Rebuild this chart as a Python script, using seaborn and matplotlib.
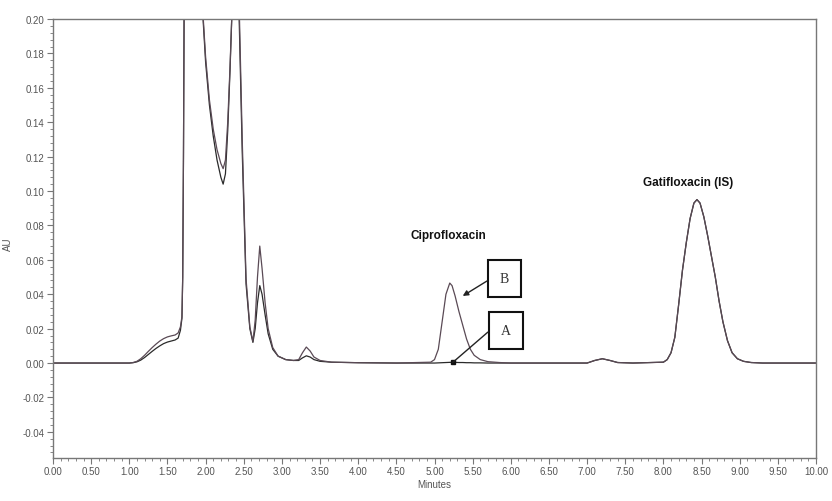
import numpy as np
import pandas as pd
import matplotlib
matplotlib.use("Agg")
import matplotlib.pyplot as plt
import seaborn as sns
from matplotlib.ticker import MultipleLocator, FormatStrFormatter

# ---- data (time in minutes, absorbance in AU) ----
time_min = [0.00, 0.50, 1.00, 1.05, 1.10, 1.15, 1.20, 1.25, 1.30, 1.35, 1.40, 1.45,
            1.50, 1.55, 1.60, 1.64, 1.67, 1.69, 1.70, 1.71, 1.72, 1.75, 1.85, 1.92,
            1.96, 2.00, 2.05, 2.10, 2.15, 2.20, 2.23, 2.26, 2.29, 2.32, 2.35, 2.38,
            2.41, 2.44, 2.48, 2.53, 2.58, 2.62, 2.65, 2.68, 2.71, 2.74, 2.78, 2.82,
            2.88, 2.95, 3.05, 3.15, 3.22, 3.27, 3.32, 3.37, 3.42, 3.50, 3.65, 4.00,
            4.50, 4.95, 5.00, 5.05, 5.10, 5.15, 5.20, 5.23, 5.27, 5.32, 5.37, 5.42,
            5.47, 5.52, 5.60, 5.70, 5.85, 6.00, 6.50, 7.00, 7.10, 7.20, 7.30, 7.40,
            7.60, 8.00, 8.05, 8.10, 8.15, 8.20, 8.25, 8.30, 8.35, 8.40, 8.44, 8.48,
            8.53, 8.58, 8.63, 8.68, 8.73, 8.78, 8.84, 8.90, 8.97, 9.05, 9.15, 9.30,
            10.00]

au_sample_a = [0.0000, 0.0000, 0.0000, 0.0002, 0.0007, 0.0017, 0.0032, 0.0050, 0.0068, 0.0085, 0.0100, 0.0113,
               0.0122, 0.0128, 0.0134, 0.0145, 0.0190, 0.0260, 0.0500, 0.1200, 0.2200, 0.3500, 0.4000, 0.3000,
               0.2050, 0.1750, 0.1500, 0.1320, 0.1180, 0.1080, 0.1040, 0.1100, 0.1350, 0.1700, 0.2100, 0.3000,
               0.2600, 0.2000, 0.1230, 0.0460, 0.0200, 0.0120, 0.0200, 0.0350, 0.0450, 0.0400, 0.0280, 0.0170,
               0.0080, 0.0040, 0.0020, 0.0015, 0.0015, 0.0030, 0.0042, 0.0035, 0.0020, 0.0010, 0.0005, 0.0002,
               0.0000, 0.0000, 0.0000, 0.0001, 0.0002, 0.0003, 0.0004, 0.0004, 0.0004, 0.0003, 0.0003, 0.0002,
               0.0002, 0.0001, 0.0001, 0.0000, 0.0000, 0.0000, 0.0000, 0.0000, 0.0015, 0.0025, 0.0015, 0.0003,
               0.0000, 0.0005, 0.0020, 0.0060, 0.0150, 0.0340, 0.0540, 0.0700, 0.0840, 0.0930, 0.0950, 0.0930,
               0.0850, 0.0740, 0.0620, 0.0500, 0.0360, 0.0240, 0.0130, 0.0060, 0.0025, 0.0010, 0.0003, 0.0000,
               0.0000]

au_sample_b = [0.0000, 0.0000, 0.0000, 0.0003, 0.0010, 0.0025, 0.0045, 0.0068, 0.0090, 0.0110, 0.0128, 0.0142,
               0.0152, 0.0158, 0.0163, 0.0175, 0.0210, 0.0270, 0.0500, 0.1200, 0.2200, 0.3500, 0.4000, 0.3000,
               0.2070, 0.1780, 0.1530, 0.1360, 0.1240, 0.1160, 0.1130, 0.1180, 0.1400, 0.1720, 0.2100, 0.3000,
               0.2650, 0.2080, 0.1300, 0.0490, 0.0210, 0.0125, 0.0250, 0.0500, 0.0680, 0.0550, 0.0350, 0.0200,
               0.0090, 0.0040, 0.0020, 0.0015, 0.0020, 0.0060, 0.0093, 0.0070, 0.0035, 0.0015, 0.0005, 0.0002,
               0.0000, 0.0005, 0.0020, 0.0080, 0.0240, 0.0400, 0.0465, 0.0450, 0.0390, 0.0300, 0.0220, 0.0140,
               0.0080, 0.0045, 0.0020, 0.0008, 0.0003, 0.0000, 0.0000, 0.0000, 0.0015, 0.0025, 0.0015, 0.0003,
               0.0000, 0.0005, 0.0020, 0.0060, 0.0150, 0.0340, 0.0540, 0.0700, 0.0840, 0.0930, 0.0950, 0.0930,
               0.0850, 0.0740, 0.0620, 0.0500, 0.0360, 0.0240, 0.0130, 0.0060, 0.0025, 0.0010, 0.0003, 0.0000,
               0.0000]

trace_names = ["A", "B"]
peak_labels = ["Ciprofloxacin", "Gatifloxacin (IS)"]
x_label = "Minutes"
y_label = "AU"

df = pd.DataFrame({
    "time": time_min * 2,
    "au": au_sample_a + au_sample_b,
    "trace": [trace_names[0]] * len(time_min) + [trace_names[1]] * len(time_min),
})

# ---- figure ----
sns.set_theme(style="white")
plt.rcParams["font.family"] = ["Liberation Sans", "DejaVu Sans"]

fig = plt.figure(figsize=(8.32, 5.02), dpi=100)
ax = fig.add_axes([53 / 832, 1 - 459 / 502, (816 - 53) / 832, (459 - 20) / 502])

sns.lineplot(data=df, x="time", y="au", hue="trace", estimator=None, sort=False,
             palette={"A": "#2a2a2a", "B": "#5a4a55"}, linewidth=0.9, legend=False, ax=ax)

ax.set_xlim(0, 10)
ax.set_ylim(-0.0552, 0.20)

ax.xaxis.set_major_locator(MultipleLocator(0.5))
ax.xaxis.set_minor_locator(MultipleLocator(0.1))
ax.yaxis.set_major_locator(MultipleLocator(0.02))
ax.yaxis.set_minor_locator(MultipleLocator(0.004))
ax.xaxis.set_major_formatter(FormatStrFormatter("%.2f"))
ax.yaxis.set_major_formatter(FormatStrFormatter("%.2f"))

tick_font = ["Liberation Sans Narrow", "Liberation Sans", "DejaVu Sans"]
ax.tick_params(axis="both", which="major", direction="out", length=4, width=0.8,
               color="#777777", labelcolor="#555555", labelsize=7, pad=2)
ax.tick_params(axis="both", which="minor", direction="out", length=2, width=0.7,
               color="#888888")
ax.tick_params(axis="x", which="both", bottom=True)
ax.tick_params(axis="y", which="both", left=True)
for lab in ax.get_xticklabels() + ax.get_yticklabels():
    lab.set_family(tick_font)

for side in ["left", "bottom", "top", "right"]:
    ax.spines[side].set_visible(True)
    ax.spines[side].set_color("#777777")
    ax.spines[side].set_linewidth(1.0)

ax.set_xlabel(x_label, fontsize=7, color="#555555", family=tick_font, labelpad=2)
ax.set_ylabel(y_label, fontsize=7, color="#555555", family=tick_font)
ax.yaxis.set_label_coords(-0.052, 0.49)

# peak names
ax.text(5.18, 0.0744, peak_labels[0], ha="center", va="center",
        fontsize=8.5, fontweight="bold", color="#111111")
ax.text(8.32, 0.1052, peak_labels[1], ha="center", va="center",
        fontsize=8.5, fontweight="bold", color="#111111")

# boxed trace identifiers with arrows
serif = ["Liberation Serif", "DejaVu Serif"]
box = dict(boxstyle="square,pad=0.85", fc="white", ec="#111111", lw=1.5)
ax.text(5.917, 0.0491, trace_names[1], ha="center", va="center", fontsize=10,
        family=serif, color="#333333", bbox=box)
ax.text(5.937, 0.0189, trace_names[0], ha="center", va="center", fontsize=10,
        family=serif, color="#333333", bbox=box)

ax.annotate("", xy=(5.37, 0.039), xytext=(5.688, 0.0477),
            arrowprops=dict(arrowstyle="-|>", color="#222222", lw=1.0,
                            mutation_scale=8, shrinkA=0, shrinkB=0))
t_dot = 5.24
y_dot = float(np.interp(t_dot, time_min, au_sample_a))
ax.annotate("", xy=(t_dot, y_dot), xytext=(5.70, 0.018),
            arrowprops=dict(arrowstyle="-", color="#222222", lw=1.0,
                            shrinkA=0, shrinkB=0))
ax.plot([t_dot], [y_dot], marker="s", ms=3, color="#111111")

fig.savefig("out.png", dpi=100, facecolor="white")
